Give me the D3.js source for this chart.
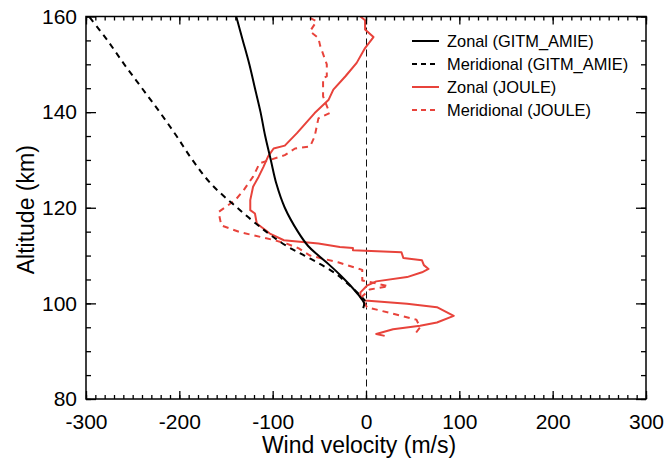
<!DOCTYPE html>
<html>
<head>
<meta charset="utf-8">
<script src="https://cdn.jsdelivr.net/npm/d3@7"></script>
<style>
  html, body { margin: 0; padding: 0; background: #fff; }
  svg { display: block; font-family: "Liberation Sans", Arial, Helvetica, sans-serif; }
</style>
</head>
<body>
<svg id="chart" width="668" height="461"></svg>
<script>
// ---- Data ----
const xTicks = [-300, -200, -100, 0, 100, 200, 300];
const yTicks = [80, 100, 120, 140, 160];

const gitmZonalAlt = [160, 155, 150, 145, 140, 135, 130, 125, 120, 115, 112, 110, 108, 106, 104, 102, 101, 100, 99];
const gitmZonalVel = [-139, -132, -125, -119, -113, -108, -102, -96, -87, -73, -62, -51, -39, -28, -18, -9, -5, -2, -3];

const gitmMeridAlt = [159.8, 155, 150, 145, 140, 135, 130, 125, 120, 115, 112, 110, 108, 106, 104, 102, 101, 100.5];
const gitmMeridVel = [-296, -277, -259, -240, -221, -203, -186, -166, -138, -107, -85, -66, -47, -31, -19, -8, -3, -1];

const jouleZonalAlt = [160, 159.2, 157.3, 155.7, 153.4, 150.3, 147.5, 144.7, 142.6, 139.8, 135.6, 133, 132.4, 130.7, 128.5, 126.5, 124.4, 121.6, 119.5, 118.8, 116.7, 114.6, 113.2, 112.5, 111.8, 111.6, 111.1, 110.7, 109.5, 109, 108, 107.2, 106.5, 105.5, 104.6, 103.7, 102.3, 101.3, 100.6, 99.9, 99.2, 97.4, 96, 95.3, 94.6, 93.6, 93.2];
const jouleZonalVel = [-6, -1, -1, 8, -1, -10, -22, -35, -40, -55, -74, -87, -99, -105, -110, -115, -121, -124, -124, -119, -117, -103, -88, -51, -28, -14, -14, 38, 40, 60, 62, 67, 60, 44, 11, 1, -6, -6, -1, 44, 76, 94, 76, 58, 29, 11, 20];

const jouleMeridAlt = [159.7, 159, 156.9, 155.5, 153.8, 150, 147.5, 147.1, 143.3, 139.8, 138.7, 134.9, 132.8, 132.4, 131, 130, 129.3, 126.5, 123.7, 121.6, 119.1, 116.3, 114.9, 113.3, 112.5, 111.5, 110, 108.6, 107, 104.8, 103.6, 102.9, 101.3, 100.6, 99.2, 96.6, 95, 93.2];
const jouleMeridVel = [-60, -53, -60, -51, -49, -42, -42, -46, -46, -39, -51, -55, -60, -76, -87, -103, -114, -121, -131, -140, -158, -155, -135, -100, -85, -72, -60, -30, -4, -4, 24, 4, -5, -3, 1, 54, 58, 51];

const seriesNames = ["Zonal (GITM_AMIE)", "Meridional (GITM_AMIE)", "Zonal (JOULE)", "Meridional (JOULE)"];

// ---- Layout ----
const svg = d3.select("#chart");
const pL = 86, pR = 646, pT = 16.5, pB = 399;
const black = "#000", red = "#e8433b";

const x = d3.scaleLinear().domain([-300, 300]).range([pL, pR]);
const y = d3.scaleLinear().domain([80, 160]).range([pB, pT]);

svg.append("clipPath").attr("id", "clip")
  .append("rect").attr("x", pL).attr("y", pT).attr("width", pR - pL).attr("height", pB - pT);

// zero line
svg.append("line")
  .attr("x1", x(0) + 0.5).attr("x2", x(0) + 0.5).attr("y1", pT).attr("y2", pB)
  .attr("stroke", "#111").attr("stroke-width", 1).attr("stroke-dasharray", "7,4");

const series = [
  { alt: gitmZonalAlt, vel: gitmZonalVel, color: black, dash: null, smooth: true },
  { alt: gitmMeridAlt, vel: gitmMeridVel, color: black, dash: "6,5", smooth: true },
  { alt: jouleZonalAlt, vel: jouleZonalVel, color: red, dash: null, smooth: false },
  { alt: jouleMeridAlt, vel: jouleMeridVel, color: red, dash: "6,5", smooth: false }
];

const g = svg.append("g").attr("clip-path", "url(#clip)");
[3, 2, 1, 0].forEach(i => {
  const s = series[i];
  const line = d3.line().x(d => x(d[1])).y(d => y(d[0]))
    .curve(s.smooth ? d3.curveCatmullRom.alpha(0.5) : d3.curveLinear);
  g.append("path")
    .datum(s.alt.map((a, j) => [a, s.vel[j]]))
    .attr("d", line)
    .attr("fill", "none")
    .attr("stroke", s.color)
    .attr("stroke-width", 2)
    .attr("stroke-linejoin", "round")
    .attr("stroke-dasharray", s.dash);
});

// ---- Axes (ticks inward on all sides) ----
const xMinor = d3.range(-300, 301, 10);
const yMinor = d3.range(80, 161, 5);
const fmt = d => String(d);

function addAxis(axis, transform) {
  const a = svg.append("g").attr("transform", transform).call(axis);
  a.select(".domain").remove();
  a.selectAll("line").attr("stroke", "#000").attr("stroke-width", 1.3);
  return a;
}
// bottom
addAxis(d3.axisBottom(x).tickValues(xMinor).tickSize(-4).tickFormat(""), `translate(0,${pB})`);
const xb = addAxis(d3.axisBottom(x).tickValues(xTicks).tickSize(-8).tickFormat(fmt), `translate(0,${pB})`);
xb.selectAll("text").attr("font-size", 21).attr("fill", "#000").attr("dy", null).attr("y", 30);
// top
addAxis(d3.axisTop(x).tickValues(xMinor).tickSize(-4).tickFormat(""), `translate(0,${pT})`);
addAxis(d3.axisTop(x).tickValues(xTicks).tickSize(-8).tickFormat(""), `translate(0,${pT})`);
// left
addAxis(d3.axisLeft(y).tickValues(yMinor).tickSize(-5).tickFormat(""), `translate(${pL},0)`);
const yl = addAxis(d3.axisLeft(y).tickValues(yTicks).tickSize(-10).tickFormat(fmt), `translate(${pL},0)`);
yl.selectAll("text").attr("font-size", 21).attr("fill", "#000").attr("x", -9);
// right
addAxis(d3.axisRight(y).tickValues(yMinor).tickSize(-5).tickFormat(""), `translate(${pR},0)`);
addAxis(d3.axisRight(y).tickValues(yTicks).tickSize(-10).tickFormat(""), `translate(${pR},0)`);

// frame
svg.append("rect")
  .attr("x", pL).attr("y", pT).attr("width", pR - pL).attr("height", pB - pT)
  .attr("fill", "none").attr("stroke", "#000").attr("stroke-width", 1.5);

// axis titles
svg.append("text")
  .attr("x", (pL + pR) / 2 - 7).attr("y", 453)
  .attr("text-anchor", "middle").attr("font-size", 23).attr("fill", "#000")
  .text("Wind velocity (m/s)");
svg.append("text")
  .attr("transform", `translate(34,${(pT + pB) / 2 + 2}) rotate(-90)`)
  .attr("text-anchor", "middle").attr("font-size", 23).attr("fill", "#000")
  .text("Altitude (km)");

// ---- Legend ----
const leg = svg.append("g");
const rowY = [41, 64, 87, 110];
series.forEach((s, i) => {
  leg.append("line")
    .attr("x1", 412).attr("x2", 439).attr("y1", rowY[i]).attr("y2", rowY[i])
    .attr("stroke", s.color).attr("stroke-width", 2).attr("stroke-dasharray", s.dash ? "5,4" : null);
  leg.append("text")
    .attr("x", 447).attr("y", rowY[i]).attr("dy", "0.35em")
    .attr("font-size", 16.4).attr("fill", "#000")
    .text(seriesNames[i]);
});
</script>
</body>
</html>
